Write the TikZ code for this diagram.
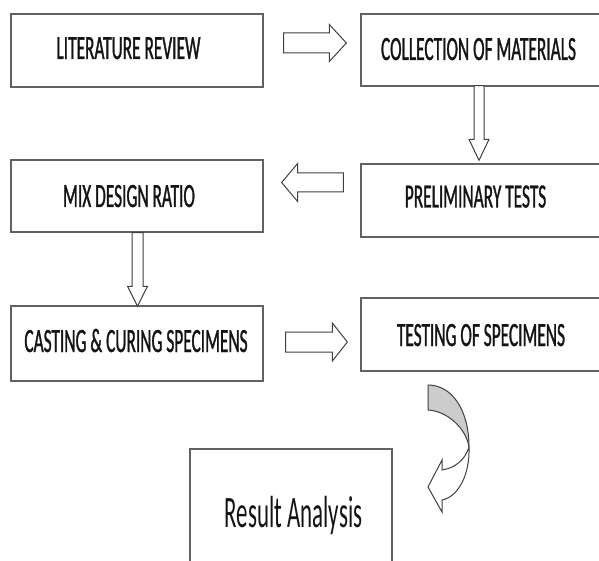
\documentclass[tikz,border=0pt]{standalone}
\usepackage{fontspec}
\usepackage{xcolor}
\usetikzlibrary{calc}
\newfontfamily\flowfont[FakeStretch=0.51, FakeBold=0.9]{Carlito}
\newfontfamily\resultfont[FakeStretch=0.51]{Carlito}

% hollow block arrow: start, tip, shaft half width, head half width, head length
\newcommand{\blockarrow}[5]{%
  \coordinate (ahbase) at ($(#2)!#5!(#1)$);
  \draw[arrowline] ($(#1)!#3!90:(#2)$) -- ($(ahbase)!#3!90:(#2)$) -- ($(ahbase)!#4!90:(#2)$)
    -- (#2) -- ($(ahbase)!#4!-90:(#2)$) -- ($(ahbase)!#3!-90:(#2)$) -- ($(#1)!#3!-90:(#2)$) -- cycle;
}

\begin{document}
\begin{tikzpicture}[
  x=1pt, y=-1pt,
  stage/.style={
    draw=black!62, line width=1.3pt, fill=white,
    minimum width=#1, inner sep=0pt
  },
  caption/.style={
    font=\flowfont\fontsize{34}{34}\selectfont, text=black!92,
    anchor=base, inner sep=0pt
  },
  arrowline/.style={
    draw=black!75, line width=1pt, fill=white, line join=miter
  }
]
\clip (0,0) rectangle (599,561);
\fill[white] (0,0) rectangle (599,561);

% Row 1
\node[stage=252pt, minimum height=73pt] (lit) at (137,50.5) {};
\node[caption] (littext) at (128.5,59) {LITERATURE REVIEW};
\node[stage=249pt, minimum height=72pt] (col) at (485.5,50) {};
\node[caption] (coltext) at (478.5,60) {COLLECTION OF MATERIALS};

% Row 2
\node[stage=252pt, minimum height=72pt] (mix) at (137,196) {};
\node[caption] (mixtext) at (129,207) {MIX DESIGN RATIO};
\node[stage=249pt, minimum height=73pt] (prelim) at (485.5,200.5) {};
\node[caption] (prelimtext) at (475.5,207.5) {PRELIMINARY TESTS};

% Row 3
\node[stage=252pt, minimum height=75pt] (cast) at (137,343.5) {};
\node[caption] (casttext) at (136,352) {CASTING \& CURING SPECIMENS};
\node[stage=249pt, minimum height=73pt] (test) at (485.5,334.5) {};
\node[caption] (testtext) at (481,346) {TESTING OF SPECIMENS};

% Result
\node[stage=202pt, minimum height=126pt] (result) at (291,512) {};
\node[caption, font=\resultfont\fontsize{45}{45}\selectfont] (resulttext) at (293.5,527) {Result Analysis};

% Block arrows between the stages
\coordinate (a1s) at ($(lit.east)+(20,-7.5)$);
\coordinate (a1e) at ($(col.west)+(-14,-7)$);
\blockarrow{a1s}{a1e}{10pt}{18.5pt}{17pt}

\coordinate (a2s) at ($(col.south)+(-6.5,-1)$);
\coordinate (a2e) at ($(prelim.north)+(-6.5,-3)$);
\blockarrow{a2s}{a2e}{5pt}{10pt}{21pt}

\coordinate (a3s) at ($(prelim.west)+(-17,-18)$);
\coordinate (a3e) at ($(mix.east)+(18,-13.5)$);
\blockarrow{a3s}{a3e}{9.5pt}{19pt}{16pt}

\coordinate (a4s) at ($(mix.south)+(0.5,0)$);
\coordinate (a4e) at ($(cast.north)+(0.5,1)$);
\blockarrow{a4s}{a4e}{5.5pt}{10pt}{20pt}

\coordinate (a5s) at ($(cast.east)+(22,-1.5)$);
\coordinate (a5e) at ($(test.west)+(-13,7.5)$);
\blockarrow{a5s}{a5e}{10pt}{19pt}{15pt}

% Curved arrow down to the result
\fill[black!20] (428,385) .. controls (452,385) and (469,410) .. (469,447)
  .. controls (466,428) and (447,411) .. (428,410) -- cycle;
\draw[arrowline] (469,447) .. controls (470,475) and (458,497) .. (442,500)
  -- (442,512) -- (428,487) -- (442,460) -- (442,470)
  .. controls (455,468) and (465,460) .. (469,447);
\draw[arrowline, fill=none] (428,410) -- (428,385) .. controls (452,385) and (469,410) .. (469,447);
\draw[arrowline, fill=none] (428,410) .. controls (447,411) and (466,428) .. (469,447);

\end{tikzpicture}
\end{document}
